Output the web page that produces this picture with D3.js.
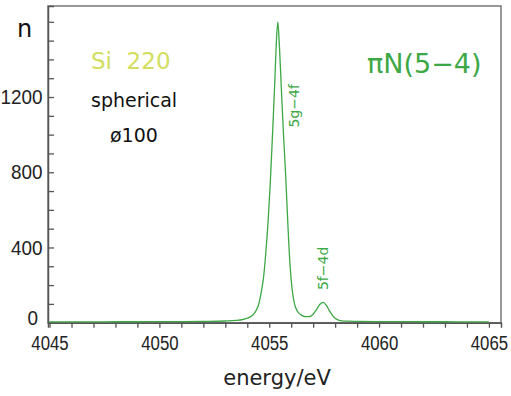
<!DOCTYPE html>
<html>
<head>
<meta charset="utf-8">
<script src="https://cdn.jsdelivr.net/npm/d3@7"></script>
<style>
  body { margin: 0; background: #fff; }
  svg { display: block; }
</style>
</head>
<body>
<div id="chart"></div>
<script>
// spectrum: energy (eV) and counts n
const energy = [4045.0, 4046, 4047, 4048, 4049, 4050, 4051, 4052, 4053, 4053.5, 4053.8, 4054.0,
  4054.2, 4054.35, 4054.5, 4054.65, 4054.75, 4054.85, 4054.95, 4055.05, 4055.15, 4055.25, 4055.32,
  4055.39, 4055.46, 4055.55, 4055.65, 4055.75, 4055.85, 4055.95, 4056.05, 4056.15, 4056.3, 4056.5,
  4056.7, 4056.85, 4057.0, 4057.15, 4057.3, 4057.46, 4057.6, 4057.75, 4057.9, 4058.1, 4058.3,
  4058.6, 4059, 4060, 4061, 4062, 4063, 4064, 4065];
const counts = [4, 4, 4, 5, 5, 6, 6, 7, 9, 12, 17, 24,
  35, 55, 90, 170, 250, 380, 540, 750, 1000, 1270, 1480,
  1600, 1480, 1250, 1000, 780, 520, 300, 170, 100, 58, 38,
  32, 33, 45, 70, 97, 108, 92, 62, 35, 16, 10,
  8, 7, 6, 6, 5, 5, 4, 4];

const xTicks = [4045, 4050, 4055, 4060, 4065];
const yTicks = [0, 400, 800, 1200];
const peakLabels = [
  { text: '5g\u22124f', e: 4055.39, n: 1600 },
  { text: '5f\u22124d', e: 4057.46, n: 108 }
];

const width = 511, height = 396;
const green = '#3da845';
const font = '"DejaVu Sans", sans-serif';
const tickFont = '"Liberation Sans", Arial, sans-serif';

const svg = d3.select('#chart').append('svg')
  .attr('width', width)
  .attr('height', height);

const x = d3.scaleLinear().domain([4044.93, 4065.55]).range([48, 501]);
const y = d3.scaleLinear().domain([0, 1684]).range([322.7, 6]);

// frame
svg.append('rect')
  .attr('x', x.range()[0]).attr('y', y.range()[1])
  .attr('width', x.range()[1] - x.range()[0])
  .attr('height', y.range()[0] - y.range()[1])
  .attr('fill', 'none').attr('stroke', '#777').attr('stroke-width', 1.5);

// x axis: ticks every eV pointing down, labels every 5
const xAxis = d3.axisBottom(x)
  .tickValues(d3.range(4045, 4066, 1))
  .tickSize(5)
  .tickFormat(d => xTicks.includes(d) ? d : '');
const gx = svg.append('g')
  .attr('transform', `translate(0,${y(0)})`)
  .call(xAxis);
gx.select('.domain').attr('stroke', '#555').attr('stroke-width', 1.5);
gx.selectAll('.tick line').attr('stroke', '#555').attr('stroke-width', 1.3);
gx.selectAll('.tick text')
  .attr('y', 27)
  .attr('dy', 0)
  .attr('transform', 'scale(0.8,1)')
  .attr('fill', '#222')
  .style('font-family', tickFont)
  .style('font-size', '21px');

// y axis: ticks every 100 pointing inward, labels every 400
const yAxis = d3.axisLeft(y)
  .tickValues(d3.range(0, 1700, 100))
  .tickSize(-6)
  .tickFormat(d => yTicks.includes(d) ? d : '');
const gy = svg.append('g')
  .attr('transform', `translate(${x.range()[0]},0)`)
  .call(yAxis);
gy.select('.domain').attr('stroke', '#555').attr('stroke-width', 1.5);
gy.selectAll('.tick line').attr('stroke', '#555').attr('stroke-width', 1.3);
gy.selectAll('.tick text')
  .attr('x', -6)
  .attr('transform', 'scale(0.9,1)')
  .attr('fill', '#222')
  .style('font-family', tickFont)
  .style('font-size', '21px');
gy.selectAll('.tick').filter(d => d === 0).select('text').attr('x', -11).attr('dy', '0.1em');

// spectrum
const data = energy.map((e, i) => ({ e, n: counts[i] }));
const line = d3.line()
  .x(d => x(d.e))
  .y(d => y(d.n))
  .curve(d3.curveMonotoneX);
svg.append('path')
  .datum(data)
  .attr('d', line)
  .attr('fill', 'none')
  .attr('stroke', green)
  .attr('stroke-width', 1.3);

// rotated peak labels
svg.selectAll('.peak')
  .data(peakLabels)
  .enter()
  .append('text')
  .attr('class', 'peak')
  .attr('transform', (d, i) => i === 0
    ? `translate(${x(d.e) + 16},${y(d.n) + 84}) rotate(-90)`
    : `translate(${x(d.e)},${y(d.n) - 34}) rotate(-90)`)
  .attr('text-anchor', 'middle')
  .attr('dy', '0.35em')
  .attr('fill', green)
  .style('font-family', font)
  .style('font-size', '14px')
  .text(d => d.text);

svg.append('text')
  .attr('x', 17).attr('y', 37)
  .attr('fill', '#111')
  .style('font-family', font).style('font-size', '24px')
  .text('n');

svg.append('text')
  .attr('x', 91).attr('y', 69)
  .attr('fill', '#d2de5e')
  .style('font-family', font).style('font-size', '23px')
  .style('white-space', 'pre')
  .text('Si  220');

svg.append('text')
  .attr('x', 91).attr('y', 107)
  .attr('fill', '#111')
  .style('font-family', font).style('font-size', '19px')
  .text('spherical');

svg.append('text')
  .attr('x', 110).attr('y', 142)
  .attr('fill', '#111')
  .style('font-family', font).style('font-size', '19px')
  .text('\u00f8100');

svg.append('text')
  .attr('x', 367).attr('y', 73)
  .attr('fill', green)
  .style('font-family', font).style('font-size', '27px')
  .text('\u03c0N(5\u22124)');

svg.append('text')
  .attr('x', 277).attr('y', 385)
  .attr('text-anchor', 'middle')
  .attr('fill', '#222')
  .style('font-family', font).style('font-size', '21px')
  .text('energy/eV');
</script>
</body>
</html>
